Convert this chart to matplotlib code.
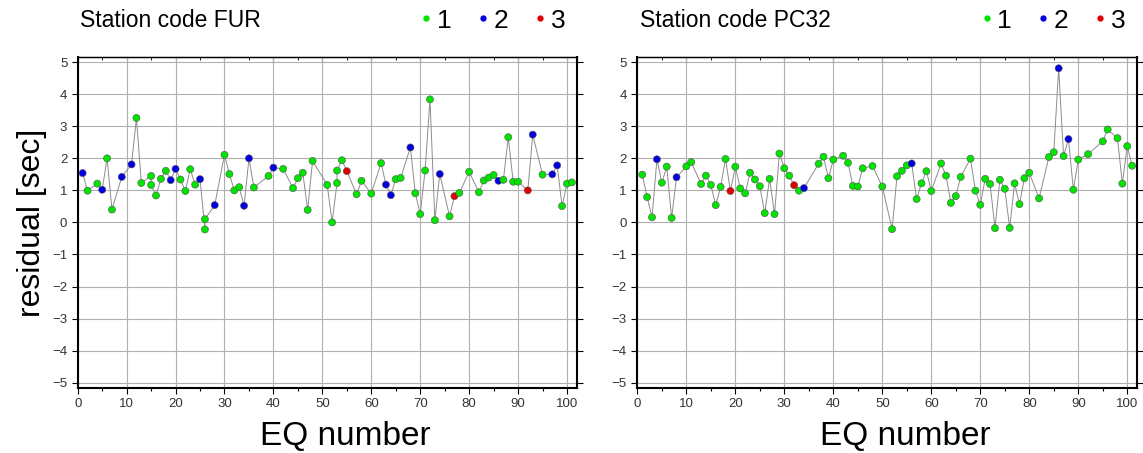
import matplotlib
matplotlib.use("Agg")
import matplotlib.pyplot as plt
from matplotlib.lines import Line2D
from matplotlib.ticker import MultipleLocator

plt.rcParams["font.family"] = ["Liberation Sans", "DejaVu Sans"]

# station FUR
fur_eq = [1, 2, 4, 5, 6, 7, 9, 11, 12, 13, 15, 15, 16, 17, 18, 19, 20, 21, 22, 23,
          24, 25, 26, 26, 28, 30, 31, 32, 33, 34, 35, 36, 39, 40, 42, 44, 45, 46, 47, 48,
          51, 52, 53, 53, 54, 55, 57, 58, 60, 62, 63, 64, 65, 66, 68, 69, 70, 71, 72, 73,
          74, 76, 77, 78, 80, 82, 83, 84, 85, 86, 87, 88, 89, 90, 92, 93, 95, 97, 98, 99,
          100, 101]
fur_res = [1.54, 0.99, 1.21, 1.02, 2.00, 0.40, 1.42, 1.81, 3.26, 1.23, 1.45, 1.17, 0.84, 1.36, 1.61, 1.32, 1.67, 1.34, 0.98, 1.66,
           1.18, 1.35, -0.22, 0.10, 0.54, 2.11, 1.51, 1.00, 1.10, 0.52, 2.00, 1.09, 1.45, 1.71, 1.67, 1.07, 1.38, 1.55, 0.39, 1.92,
           1.17, 0.00, 1.23, 1.62, 1.94, 1.60, 0.88, 1.30, 0.90, 1.85, 1.18, 0.85, 1.35, 1.39, 2.34, 0.91, 0.26, 1.62, 3.84, 0.07,
           1.51, 0.19, 0.82, 0.92, 1.58, 0.94, 1.31, 1.40, 1.48, 1.30, 1.33, 2.66, 1.27, 1.27, 1.00, 2.74, 1.49, 1.50, 1.78, 0.51,
           1.21, 1.25]
fur_cls = [2, 1, 1, 2, 1, 1, 2, 2, 1, 1, 1, 1, 1, 1, 1, 2, 2, 1, 1, 1,
           1, 2, 1, 1, 2, 1, 1, 1, 1, 2, 2, 1, 1, 2, 1, 1, 1, 1, 1, 1,
           1, 1, 1, 1, 1, 3, 1, 1, 1, 1, 2, 2, 1, 1, 2, 1, 1, 1, 1, 1,
           2, 1, 3, 1, 1, 1, 1, 1, 1, 2, 1, 1, 1, 1, 3, 2, 1, 2, 2, 1,
           1, 1]

# station PC32
pc32_eq = [1, 2, 3, 4, 5, 6, 7, 8, 10, 11, 13, 14, 15, 16, 17, 18, 19, 20, 21, 22,
           23, 24, 25, 26, 27, 28, 29, 30, 31, 32, 33, 34, 37, 38, 39, 40, 42, 43, 44, 45,
           46, 48, 50, 52, 53, 54, 55, 56, 57, 58, 59, 60, 62, 63, 64, 65, 66, 68, 69, 70,
           71, 72, 73, 74, 75, 76, 77, 78, 79, 80, 82, 84, 85, 86, 87, 88, 89, 90, 92, 95,
           96, 98, 99, 100, 101]
pc32_res = [1.49, 0.79, 0.16, 1.97, 1.24, 1.74, 0.14, 1.41, 1.75, 1.88, 1.20, 1.46, 1.17, 0.54, 1.11, 1.98, 0.98, 1.74, 1.06, 0.91,
            1.55, 1.34, 1.13, 0.29, 1.36, 0.26, 2.15, 1.69, 1.46, 1.16, 0.99, 1.07, 1.83, 2.05, 1.38, 1.96, 2.08, 1.86, 1.14, 1.12,
            1.69, 1.76, 1.12, -0.21, 1.44, 1.61, 1.78, 1.84, 0.73, 1.22, 1.60, 0.98, 1.84, 1.46, 0.61, 0.82, 1.42, 1.99, 0.99, 0.55,
            1.36, 1.20, -0.18, 1.33, 1.05, -0.17, 1.22, 0.57, 1.38, 1.55, 0.75, 2.04, 2.19, 4.81, 2.07, 2.60, 1.02, 1.96, 2.13, 2.53,
            2.90, 2.63, 1.21, 2.38, 1.77]
pc32_cls = [1, 1, 1, 2, 1, 1, 1, 2, 1, 1, 1, 1, 1, 1, 1, 1, 3, 1, 1, 1,
            1, 1, 1, 1, 1, 1, 1, 1, 1, 3, 1, 2, 1, 1, 1, 1, 1, 1, 1, 1,
            1, 1, 1, 1, 1, 1, 1, 2, 1, 1, 1, 1, 1, 1, 1, 1, 1, 1, 1, 1,
            1, 1, 1, 1, 1, 1, 1, 1, 1, 1, 1, 1, 1, 2, 1, 2, 1, 1, 1, 1,
            1, 1, 1, 1, 1]

cls_colors = {1: "#00e400", 2: "#0000e0", 3: "#e00000"}


def draw_station(ax, name, eq, res, cls):
    ax.plot(eq, res, color="#8c8c8c", lw=0.7, zorder=2)
    ax.scatter(eq, res, c=[cls_colors[c] for c in cls], s=26,
               edgecolors="#555555", linewidths=0.4, zorder=3)

    ax.set_xlim(0, 102)
    ax.set_ylim(-5.16, 5.16)
    ax.xaxis.set_major_locator(MultipleLocator(10))
    ax.xaxis.set_minor_locator(MultipleLocator(5))
    ax.yaxis.set_major_locator(MultipleLocator(1))
    ax.grid(True, which="major", color="#b0b0b0", lw=0.8)
    ax.set_axisbelow(True)
    ax.tick_params(axis="both", which="major", labelsize=9.5, labelcolor="#333333",
                   length=4, width=0.8, direction="out", right=True)
    ax.tick_params(axis="x", which="minor", length=2.5, width=0.8, direction="out")
    for side in ["left", "bottom", "right"]:
        ax.spines[side].set_linewidth(1.5)
    ax.spines["top"].set_linewidth(1.0)

    top = ax.secondary_xaxis("top")
    top.xaxis.set_major_locator(MultipleLocator(10))
    top.xaxis.set_minor_locator(MultipleLocator(5))
    top.tick_params(which="major", direction="in", length=4, labeltop=False)
    top.tick_params(which="minor", direction="in", length=2.5)

    ax.set_xlabel("EQ number", fontsize=24, va="center")
    ax.xaxis.set_label_coords(0.537, -0.148)
    ax.text(0.005, 1.11, "Station code " + name, transform=ax.transAxes,
            fontsize=16.5, va="center", ha="left")

    handles = [Line2D([], [], ls="none", marker="o", markersize=3.5,
                      color=cls_colors[c]) for c in (1, 2, 3)]
    ax.legend(handles, ["1", "2", "3"], ncol=3, loc="center right",
              bbox_to_anchor=(0.977, 1.11), frameon=False, fontsize=19,
              handlelength=0.5, handletextpad=0.15, columnspacing=0.95,
              borderaxespad=0, borderpad=0)


fig = plt.figure(figsize=(11.43, 4.53), dpi=100)
ax1 = fig.add_axes([0.068, 0.144, 0.4366, 0.730])
ax2 = fig.add_axes([0.5576, 0.144, 0.4372, 0.730])

draw_station(ax1, "FUR", fur_eq, fur_res, fur_cls)
draw_station(ax2, "PC32", pc32_eq, pc32_res, pc32_cls)
ax1.set_ylabel("residual [sec]", fontsize=23, labelpad=4)

fig.savefig("out.png", dpi=100)
